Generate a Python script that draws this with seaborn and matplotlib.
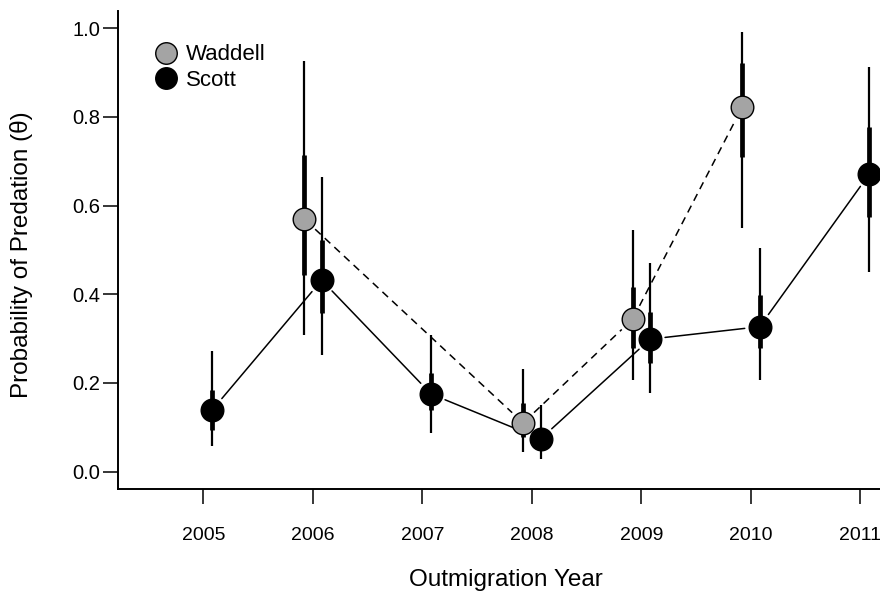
import numpy as np
import pandas as pd
import matplotlib
matplotlib.use("Agg")
import matplotlib.pyplot as plt
from matplotlib.lines import Line2D
import seaborn as sns

# ---------------- data ----------------
years = [2005, 2006, 2007, 2008, 2009, 2010, 2011]

scott_years = [2005, 2006, 2007, 2008, 2009, 2010, 2011]
scott_mean = [0.139, 0.432, 0.175, 0.074, 0.299, 0.327, 0.671]
scott_lo95 = [0.058, 0.263, 0.088, 0.029, 0.177, 0.207, 0.451]
scott_hi95 = [0.273, 0.665, 0.308, 0.150, 0.471, 0.505, 0.912]
scott_lo50 = [0.094, 0.358, 0.139, 0.055, 0.245, 0.279, 0.575]
scott_hi50 = [0.184, 0.523, 0.223, 0.095, 0.361, 0.399, 0.778]

waddell_years = [2006, 2008, 2009, 2010]
waddell_mean = [0.570, 0.110, 0.344, 0.822]
waddell_lo95 = [0.308, 0.044, 0.207, 0.550]
waddell_hi95 = [0.927, 0.232, 0.545, 0.992]
waddell_lo50 = [0.444, 0.078, 0.279, 0.710]
waddell_hi50 = [0.714, 0.155, 0.417, 0.922]

y_ticks = [0.0, 0.2, 0.4, 0.6, 0.8, 1.0]
y_ticklabels = ["0.0", "0.2", "0.4", "0.6", "0.8", "1.0"]

# ---------------- style ----------------
sns.set_style("ticks")
plt.rcParams["font.family"] = ["Liberation Sans", "DejaVu Sans"]
plt.rcParams["text.color"] = "black"
plt.rcParams["axes.labelcolor"] = "black"

W, H = 880, 596
fig = plt.figure(figsize=(W / 100, H / 100), dpi=100)
ax_left, ax_right = 118, 945.8
ax_top, ax_bottom = 10.6, 489.4
ax = fig.add_axes([ax_left / W, 1 - ax_bottom / H,
                   (ax_right - ax_left) / W, (ax_bottom - ax_top) / H])
ax.set_xlim(2004.22, 2011.78)
ax.set_ylim(-0.04, 1.04)

gray = "#A4A4A4"
off = 0.08

scott = pd.DataFrame({"x": np.array(scott_years) + off, "y": scott_mean,
                      "lo95": scott_lo95, "hi95": scott_hi95,
                      "lo50": scott_lo50, "hi50": scott_hi50})
wad = pd.DataFrame({"x": np.array(waddell_years) - off, "y": waddell_mean,
                    "lo95": waddell_lo95, "hi95": waddell_hi95,
                    "lo50": waddell_lo50, "hi50": waddell_hi50})

# error bars
for df in (wad, scott):
    ax.vlines(df["x"], df["lo95"], df["hi95"], color="black", lw=1.6, zorder=2)
    ax.vlines(df["x"], df["lo50"], df["hi50"], color="black", lw=3.4, zorder=2)

# connecting lines with gaps around points (R type = "b")
def gapped(df, gap_px, **kw):
    pts = ax.transData.transform(np.column_stack([df["x"], df["y"]]))
    inv = ax.transData.inverted()
    for p0, p1 in zip(pts[:-1], pts[1:]):
        d = p1 - p0
        L = np.hypot(*d)
        u = d / L
        a = inv.transform(p0 + u * gap_px)
        b = inv.transform(p1 - u * gap_px)
        ax.plot([a[0], b[0]], [a[1], b[1]], zorder=2.5, **kw)

gapped(wad, 15, color="black", lw=1.1, ls=(0, (5.0, 3.6)))
gapped(scott, 15, color="black", lw=1.1, ls="-")

# markers
sns.scatterplot(data=wad, x="x", y="y", ax=ax, s=265, color=gray,
                edgecolor="black", linewidth=1.0, zorder=3, legend=False)
sns.scatterplot(data=scott, x="x", y="y", ax=ax, s=265, color="black",
                edgecolor="black", linewidth=1.0, zorder=3.1, legend=False,
                clip_on=False)

# axes styling
sns.despine(ax=ax, top=True, right=True)
for s in ("left", "bottom"):
    ax.spines[s].set_linewidth(1.4)
    ax.spines[s].set_color("black")
ax.set_xticks(years)
ax.set_xticklabels([str(y) for y in years])
ax.set_yticks(y_ticks)
ax.set_yticklabels(y_ticklabels)
ax.tick_params(axis="x", length=11, width=1.1, pad=16, labelsize=14,
               colors="black", labelcolor="black")
ax.tick_params(axis="y", length=11, width=1.1, pad=2, labelsize=14.5,
               colors="black", labelcolor="black")

ax.set_xlabel("Outmigration Year", fontsize=17.5, color="black")
ax.set_ylabel("Probability of Predation (θ)", fontsize=17.5, color="black")
axw = ax_right - ax_left
axh = ax_bottom - ax_top
ax.xaxis.label.set_va("center")
ax.xaxis.set_label_coords((505.5 - ax_left) / axw, (ax_bottom - 580) / axh)
ax.yaxis.label.set_va("center")
ax.yaxis.set_label_coords((22 - ax_left) / axw, (ax_bottom - 255) / axh)

# legend
handles = [Line2D([], [], ls="", marker="o", ms=15.5, mfc=gray, mec="black", mew=1.0),
           Line2D([], [], ls="", marker="o", ms=15.5, mfc="black", mec="black", mew=1.0)]
ax.legend(handles, ["Waddell", "Scott"], loc="upper left",
          bbox_to_anchor=(155 / W, 1 - 44.5 / H), bbox_transform=fig.transFigure,
          frameon=False, fontsize=16, handlelength=1.0, handletextpad=0.4,
          labelspacing=0.18, borderpad=0, borderaxespad=0)

fig.savefig("out.png", dpi=100)
